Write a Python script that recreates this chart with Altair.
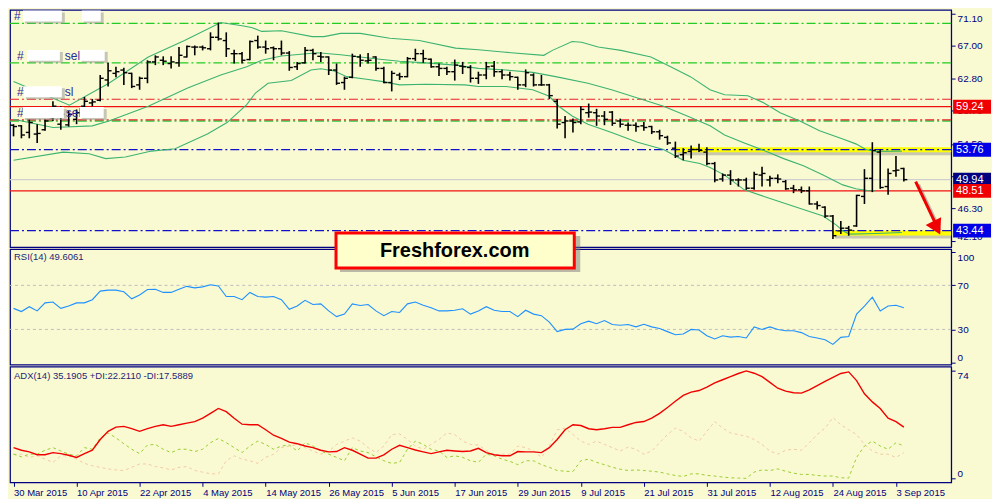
import json
import altair as alt
import pandas as pd

BG = "#FAFAD2"
NAVY = "#000080"
TXT = "#1E1E78"
FONT = "Liberation Sans"
W = 944
H_MAIN, H_RSI, H_ADX = 238, 116, 116
XDOM = [-0.45, 119.0]

date_labels = ["30 Mar 2015", "10 Apr 2015", "22 Apr 2015", "4 May 2015", "14 May 2015",
               "26 May 2015", "5 Jun 2015", "17 Jun 2015", "29 Jun 2015", "9 Jul 2015",
               "21 Jul 2015", "31 Jul 2015", "12 Aug 2015", "24 Aug 2015", "3 Sep 2015"]
date_label_idx = [0, 8, 16, 24, 32, 40, 48, 56, 64, 72, 80, 88, 96, 104, 112]

opens = [56.88, 56.80, 55.96, 55.75, 56.30, 57.84, 57.01, 56.92, 57.63, 59.30, 59.72, 60.06, 62.65, 63.49, 63.91,
         63.49, 62.02, 62.86, 64.95, 65.16, 64.74, 64.83, 65.58, 66.84, 66.84, 66.63, 68.09, 67.67, 66.00, 66.00,
         65.25, 67.67, 66.84, 66.75, 66.63, 66.08, 64.33, 64.83, 66.42, 65.66, 65.58, 63.91, 62.32, 62.99, 65.58,
         65.08, 65.58, 64.12, 62.32, 63.28, 63.07, 65.37, 66.00, 65.29, 64.33, 64.12, 63.70, 64.41, 64.24, 62.86,
         63.28, 64.41, 63.70, 63.28, 62.99, 62.02, 63.28, 62.02, 62.02, 59.93, 57.22, 57.42, 57.30, 58.47, 58.47,
         58.05, 58.55, 57.42, 56.88, 56.88, 56.80, 56.71, 56.04, 55.33, 53.95, 53.12, 53.54, 53.79, 53.45, 51.99,
         50.02, 50.52, 49.90, 49.90, 48.85, 50.52, 49.90, 50.11, 49.69, 48.85, 48.64, 48.52, 46.84, 46.43, 45.30,
         43.41, 43.75, 44.04, 47.80, 50.11, 53.45, 49.06, 51.07, 51.36]
highs = [57.01, 56.88, 57.63, 57.01, 57.63, 59.93, 59.30, 58.68, 58.89, 60.48, 60.23, 63.28, 64.83, 64.33, 64.20,
         63.57, 63.07, 65.16, 65.79, 65.66, 65.66, 66.84, 67.04, 67.04, 67.04, 68.72, 69.97, 68.72, 66.50, 66.21,
         67.67, 68.30, 67.67, 66.92, 67.67, 66.33, 64.95, 66.84, 66.63, 66.21, 65.66, 64.74, 63.07, 66.00, 65.91,
         66.08, 65.66, 64.33, 63.82, 63.57, 65.58, 66.63, 66.50, 65.37, 64.74, 64.33, 65.25, 64.95, 64.54, 63.70,
         64.95, 65.08, 63.99, 63.70, 63.07, 63.99, 63.49, 63.28, 62.15, 60.23, 58.05, 57.72, 59.30, 59.64, 58.97,
         58.68, 58.68, 57.72, 57.22, 57.22, 57.30, 56.80, 56.30, 55.54, 54.79, 53.95, 54.29, 54.50, 54.08, 52.20,
         50.73, 51.15, 50.11, 50.19, 50.94, 51.57, 50.44, 50.61, 49.90, 49.27, 49.06, 49.06, 47.18, 46.55, 45.42,
         44.67, 44.04, 48.01, 51.28, 54.71, 53.79, 51.36, 52.95, 51.45]
lows = [55.46, 55.21, 55.21, 54.62, 56.17, 57.42, 56.30, 56.71, 57.01, 58.89, 59.30, 59.93, 61.82, 62.99, 62.02,
        61.61, 61.40, 62.23, 64.54, 64.54, 64.12, 64.33, 65.50, 65.79, 66.42, 66.42, 67.67, 65.58, 64.74, 64.74,
        65.16, 66.63, 66.00, 65.16, 65.79, 63.82, 63.91, 64.74, 65.16, 64.95, 63.28, 62.02, 61.40, 62.86, 64.33,
        64.74, 63.82, 62.23, 61.19, 62.65, 62.99, 65.08, 64.83, 64.20, 63.15, 63.28, 62.57, 63.40, 62.32, 62.15,
        62.74, 63.07, 62.74, 62.57, 61.40, 61.73, 61.82, 61.90, 60.23, 56.46, 55.21, 55.96, 57.01, 57.84, 56.80,
        56.88, 56.80, 56.59, 56.17, 56.04, 56.17, 55.75, 55.04, 54.37, 52.70, 52.41, 52.62, 53.45, 51.78, 49.60,
        49.69, 49.27, 49.06, 48.64, 48.64, 49.06, 49.06, 49.48, 48.64, 48.22, 48.22, 46.76, 46.13, 45.09, 42.37,
        43.00, 42.79, 43.92, 46.84, 48.35, 48.77, 48.01, 50.32, 49.69]
closes = [56.71, 55.63, 57.22, 55.83, 57.42, 59.30, 58.26, 58.26, 58.47, 59.93, 59.85, 62.86, 63.82, 63.70, 63.57,
          61.82, 62.86, 64.95, 65.58, 65.04, 64.95, 65.79, 66.92, 66.84, 66.75, 68.09, 67.88, 66.63, 66.00, 65.16,
          67.55, 66.84, 66.63, 66.63, 66.08, 64.24, 64.74, 66.42, 66.00, 65.58, 63.91, 62.23, 62.86, 65.66, 65.16,
          65.16, 64.12, 62.32, 63.49, 63.07, 65.37, 66.00, 65.37, 64.33, 64.12, 63.70, 64.54, 64.33, 62.86, 63.28,
          64.33, 63.70, 63.28, 63.07, 62.02, 63.57, 62.02, 62.02, 60.65, 57.01, 57.42, 57.22, 58.89, 58.55, 58.05,
          57.63, 57.13, 57.01, 56.88, 56.71, 56.59, 56.04, 55.54, 54.62, 52.95, 53.37, 53.79, 53.66, 51.99, 49.90,
          50.52, 49.90, 49.90, 48.85, 50.61, 50.73, 50.11, 50.02, 48.77, 48.64, 48.52, 46.84, 46.64, 45.30, 42.79,
          43.75, 43.50, 47.93, 50.11, 53.66, 48.94, 50.73, 51.15, 49.94]

bb_upper_idx = [0, 7.1, 12.1, 17.1, 21.7, 26.3, 29.0, 30.2, 31.5, 34, 37.9, 39.4, 41.5, 44, 47.75, 51.5, 56.1, 59,
                62.1, 67.3, 68.4, 70.9, 72.1, 74.2, 77.1, 80.9, 83.4, 85.9, 88.4, 90.25, 93.2, 95.25, 97.3, 99.8,
                102.3, 105.25, 106.9, 108.2, 109.4, 112.75]
bb_upper_val = [62.44, 59.43, 62.23, 65.58, 67.67, 69.97, 69.55, 69.34, 68.84, 68.92, 68.17, 68.17, 68.59, 68.59,
                67.96, 67.67, 66.71, 66.50, 66.21, 65.79, 66.42, 67.55, 67.46, 66.84, 66.42, 65.58, 64.33, 63.07,
                61.40, 60.77, 60.64, 59.72, 58.47, 57.42, 56.17, 55.12, 54.50, 53.79, 53.54, 53.58]
bb_mid_idx = [0, 5, 10, 12.1, 17.1, 22.1, 26.3, 29.6, 31.5, 34, 38.6, 41.5, 44, 46.5, 49, 52.3, 56.1, 59, 62.5,
              65.9, 68.8, 72.9, 75.9, 79.2, 82.5, 85.5, 88.4, 90.25, 92.75, 95.25, 97.75, 100.25, 102.75, 105.25,
              106.9, 108.6, 109.4]
bb_mid_val = [57.63, 56.59, 56.80, 57.42, 59.30, 61.61, 63.28, 64.33, 65.16, 65.70, 66.12, 65.87, 65.58, 65.29,
              65.04, 64.83, 64.54, 64.12, 63.91, 63.61, 63.07, 62.23, 61.40, 60.35, 59.30, 58.05, 56.80, 55.63,
              54.62, 53.66, 52.62, 51.70, 50.52, 49.27, 48.77, 48.52, 48.52]
bb_low_idx = [0, 6.3, 9.6, 11.7, 14.2, 17.5, 20.5, 24.6, 27.1, 29.6, 30.7, 32.3, 35.25, 37.75, 39, 40.7, 42.3,
              44.8, 46.9, 49, 52.3, 57.3, 59, 62.5, 65.9, 68, 69.2, 70.9, 72.9, 75.9, 79.2, 82.5, 85, 87.1, 88.4,
              90.25, 92.75, 95.25, 97.75, 100.25, 102.75, 104.4, 105.25, 106.1, 109.4, 112.75]
bb_low_val = [52.41, 53.45, 53.24, 52.62, 52.83, 53.58, 53.87, 55.75, 57.22, 59.51, 60.98, 62.23, 62.57, 63.91,
              64.07, 63.78, 63.07, 62.74, 62.44, 62.02, 62.11, 62.02, 61.82, 61.82, 61.40, 60.56, 59.30, 58.05,
              57.01, 55.96, 54.71, 53.79, 52.41, 51.99, 51.49, 50.52, 48.64, 47.80, 46.97, 46.13, 45.30, 44.17,
              43.41, 43.00, 43.08, 43.20]

rsi = [49.1, 46.2, 50.6, 46.8, 54.1, 54.9, 49.1, 51.2, 54.1, 54.1, 57.0, 64.8, 65.7, 65.7, 64.2, 57.8, 61.3, 66.2,
       66.5, 63.6, 63.6, 66.5, 69.1, 67.7, 68.6, 70.6, 69.4, 59.9, 59.9, 57.0, 63.6, 59.9, 59.3, 59.9, 57.0, 48.3,
       51.2, 56.4, 52.6, 53.2, 46.8, 41.6, 43.9, 53.2, 51.7, 52.6, 46.8, 42.5, 46.2, 45.4, 53.2, 54.9, 52.0, 49.7,
       46.8, 46.8, 47.4, 48.8, 43.9, 46.8, 50.6, 47.4, 46.2, 46.2, 41.6, 47.4, 43.9, 42.5, 36.7, 28.0, 30.0, 30.3,
       35.2, 37.5, 35.2, 38.1, 34.4, 33.8, 34.4, 32.3, 34.6, 32.3, 30.9, 28.0, 25.1, 25.9, 30.0, 29.4, 24.2, 21.3,
       24.2, 23.0, 23.6, 22.2, 32.3, 30.0, 32.3, 30.0, 28.8, 28.8, 27.1, 23.6, 22.2, 20.7, 16.4, 22.8, 23.6, 43.9,
       51.2, 59.3, 46.8, 51.2, 52.0, 49.6]
adx = [21.1, 19.3, 18.2, 16.2, 16.2, 17.7, 17.0, 15.9, 14.4, 17.0, 19.3, 26.7, 32.3, 35.2, 35.7, 34.1, 32.3, 34.1,
       35.7, 36.8, 35.7, 36.8, 37.9, 39.0, 41.3, 44.6, 48.0, 45.8, 41.3, 37.2, 36.8, 36.8, 33.4, 29.6, 27.4, 24.9,
       23.8, 22.2, 21.1, 19.3, 18.2, 18.4, 21.1, 19.3, 16.6, 13.9, 13.9, 16.2, 20.0, 22.7, 21.1, 19.5, 18.2, 17.0,
       18.2, 19.3, 18.8, 18.4, 18.8, 20.6, 17.7, 16.2, 15.5, 15.5, 18.4, 18.2, 18.2, 17.7, 21.1, 26.7, 33.4, 36.8,
       36.3, 34.1, 33.4, 34.1, 35.0, 35.0, 36.8, 38.4, 39.0, 41.3, 44.6, 48.7, 52.9, 57.0, 59.2, 60.3, 62.6, 65.5,
       67.7, 69.8, 72.0, 73.8, 72.2, 69.8, 65.9, 61.9, 59.9, 58.8, 58.5, 60.8, 63.7, 66.6, 69.3, 72.0, 73.1, 67.1,
       58.1, 52.5, 48.0, 41.3, 39.0, 35.2]
plus_di = [16.6, 14.8, 16.6, 16.6, 19.3, 21.1, 18.8, 16.6, 15.5, 21.1, 20.0, 27.8, 31.2, 27.8, 23.8, 20.0, 17.0,
           22.9, 23.3, 20.0, 17.7, 20.0, 20.0, 18.4, 20.0, 24.5, 27.4, 24.5, 21.1, 17.7, 22.2, 25.6, 23.3, 20.0,
           22.2, 22.9, 18.8, 24.5, 22.2, 18.8, 16.6, 14.4, 12.1, 21.1, 18.8, 17.7, 14.8, 12.1, 10.3, 11.0, 20.0,
           25.6, 23.3, 20.0, 18.8, 14.4, 15.5, 14.4, 12.1, 11.0, 16.6, 15.5, 13.2, 11.7, 9.4, 12.1, 12.1, 9.4, 7.6,
           5.4, 4.9, 4.7, 12.1, 13.2, 11.0, 9.4, 7.6, 6.3, 5.4, 5.8, 5.4, 4.9, 4.3, 3.1, 2.0, 1.3, 3.1, 3.1, 2.0,
           1.6, 0.9, 0.4, 0.2, 0.0, 4.3, 5.8, 5.4, 6.5, 4.9, 3.6, 2.7, 2.7, 2.0, 1.6, 1.6, 0.4, 0.2, 14.4, 22.2,
           25.6, 22.2, 20.0, 24.5, 22.2]
minus_di = [16.6, 16.6, 14.4, 15.5, 13.2, 11.0, 15.5, 15.5, 13.2, 10.3, 8.7, 7.6, 6.5, 5.8, 5.4, 7.6, 9.9, 9.9,
            8.1, 7.2, 5.8, 7.6, 8.1, 5.4, 4.3, 3.1, 3.1, 12.1, 15.5, 13.2, 12.1, 10.3, 14.4, 16.6, 21.1, 22.2,
            23.3, 21.1, 18.8, 16.6, 18.4, 23.3, 25.6, 27.8, 25.6, 21.1, 17.7, 22.2, 30.1, 30.5, 26.7, 22.2, 20.0,
            23.3, 26.7, 31.2, 30.1, 25.6, 23.3, 22.9, 19.3, 15.5, 16.6, 16.6, 22.2, 21.1, 18.8, 14.4, 22.2, 33.4,
            34.5, 30.1, 25.6, 23.3, 25.6, 23.3, 21.1, 18.8, 21.5, 20.0, 16.6, 18.8, 24.5, 30.1, 34.5, 32.3, 27.8,
            25.6, 32.3, 39.0, 34.5, 31.2, 30.1, 28.9, 26.7, 23.3, 18.8, 16.6, 19.3, 20.0, 19.3, 24.5, 30.1, 34.5,
            41.7, 36.8, 33.4, 30.1, 23.3, 18.8, 16.6, 16.6, 14.4, 17.6]

price_ticks = [42.10, 46.30, 50.40, 54.50, 58.70, 62.80, 67.00, 71.10]
rsi_ticks = [0, 30, 70, 100]
adx_ticks = [0, 74]
level_green = [69.85, 64.83, 57.55]
level_red_dash = [60.19, 57.55]
level_red_solid = [59.24, 48.51]
level_blue_dash = [53.76, 43.44]
level_price_line = [49.94]
strip_start = [84, 104]
strip_price = [53.76, 43.15]
value_tags = [59.24, 53.76, 49.94, 48.51, 43.44]
value_tag_colors = ["#F00000", "#0000E6", "#000080", "#F00000", "#0000E6"]
label_levels = [69.85, 64.83, 60.19, 57.55]
arrow_from = (114.5, 49.7)
arrow_to = (117.6, 42.95)


# ---------------------------------------------------------------- axes (identical in every layer)
def yaxis(values, fmt=None):
    lo, hi = min(values), max(values)
    kw = dict(orient="right", values=values, grid=False, labelColor=NAVY, tickColor=NAVY,
              domainColor=NAVY, tickSize=4, labelFontSize=10, labelFont=FONT, labelPadding=2,
              labelOverlap=False, labelFlush=False, labelBound=False, title=None, zindex=0,
              labelBaseline={"condition": [{"test": f"datum.value >= {hi}", "value": "top"},
                                           {"test": f"datum.value <= {lo}", "value": "bottom"}],
                             "value": "middle"})
    if fmt:
        kw["format"] = fmt
    return alt.Axis(**kw)


price_axis = yaxis(price_ticks, ".2f")
rsi_axis = yaxis(rsi_ticks)
adx_axis = yaxis(adx_ticks)
label_expr = json.dumps(date_labels) + "[round(datum.value / 8)]"
x_axis = alt.Axis(orient="bottom", values=date_label_idx, labelExpr=label_expr, labelAlign="left",
                  labelOverlap=False, labelFlush=False, labelBound=False, grid=False, domain=False,
                  tickColor=NAVY, tickSize=4, labelColor=NAVY, labelFontSize=9.5, labelFont=FONT,
                  labelPadding=1, title=None, zindex=0)

xs = alt.Scale(domain=XDOM, nice=False, zero=False)
ps = alt.Scale(domain=[41.35, 71.6], nice=False, zero=False)
rs = alt.Scale(domain=[-2, 103], nice=False, zero=False)
ads = alt.Scale(domain=[-2.7, 76.7], nice=False, zero=False)


def X(f="i"):
    return alt.X(f"{f}:Q", scale=xs, axis=None, title=None)


def XA(f="i"):
    return alt.X(f"{f}:Q", scale=xs, axis=x_axis, title=None)


def PY(f):
    return alt.Y(f"{f}:Q", scale=ps, axis=price_axis, title=None)


def RY(f):
    return alt.Y(f"{f}:Q", scale=rs, axis=rsi_axis, title=None)


def AY(f):
    return alt.Y(f"{f}:Q", scale=ads, axis=adx_axis, title=None)


def rules(vals, **kw):
    return alt.Chart(pd.DataFrame({"p": vals})).mark_rule(**kw).encode(y=PY("p"))


n = len(closes)
bars = pd.DataFrame({"i": list(range(n)), "o": opens, "h": highs, "l": lows, "c": closes})

# ---------------------------------------------------------------- main price panel
strips = pd.DataFrame({"i": strip_start, "e": [XDOM[1]] * 2, "p": strip_price})
strip_shadow = alt.Chart(strips).mark_rule(color="#8C8C8C", strokeWidth=5, opacity=0.45,
                                           yOffset=3, xOffset=2).encode(
    x=X(), x2="e:Q", y=PY("p"))
strip_yellow = alt.Chart(strips).mark_rule(color="#FFFF00", strokeWidth=5).encode(
    x=X(), x2="e:Q", y=PY("p"))

DD = [9, 3, 2, 3]
lv_g_thick = rules([level_green[2]], color="#2ECC40", strokeWidth=1.4, strokeDash=DD, yOffset=1)
lv_g = rules(level_green[:2], color="#22CC22", strokeWidth=1.2, strokeDash=DD)
lv_rd = rules(level_red_dash, color="#E8202A", strokeWidth=1.2, strokeDash=DD)
lv_rs = rules(level_red_solid, color="#F01010", strokeWidth=1.2)
lv_bd = rules(level_blue_dash, color="#1010C8", strokeWidth=1.2, strokeDash=DD)
lv_pl = rules(level_price_line, color="#CFCFCF", strokeWidth=1.2)

bands = pd.concat([
    pd.DataFrame({"i": bb_upper_idx, "v": bb_upper_val, "b": "up"}),
    pd.DataFrame({"i": bb_mid_idx, "v": bb_mid_val, "b": "mid"}),
    pd.DataFrame({"i": bb_low_idx, "v": bb_low_val, "b": "low"}),
])
band_lines = alt.Chart(bands).mark_line(color="#3CB371", strokeWidth=1.1).encode(
    x=X(), y=PY("v"), detail="b:N")

hl = alt.Chart(bars).mark_rule(color="black", strokeWidth=1.6).encode(
    x=X(), y=PY("h"), y2="l:Q")
op = alt.Chart(bars).mark_rule(color="black", strokeWidth=1.4, xOffset=-3.5).encode(
    x=X(), x2="i:Q", y=PY("o"))
cl = alt.Chart(bars).mark_rule(color="black", strokeWidth=1.4, x2Offset=3.5).encode(
    x=X(), x2="i:Q", y=PY("c"))

arrow = pd.DataFrame({"i": [arrow_from[0]], "p": [arrow_from[1]],
                      "i2": [arrow_to[0] - 0.35], "p2": [arrow_to[1] + 0.9]})
head = pd.DataFrame({"i": [arrow_to[0] - 0.42], "p": [arrow_to[1] + 0.85]})
arrow_sh = alt.Chart(arrow).mark_rule(color="#777777", strokeWidth=3, opacity=0.45, xOffset=3, yOffset=3,
                                      x2Offset=3, y2Offset=3).encode(x=X(), y=PY("p"), x2="i2:Q", y2="p2:Q")
arrow_ln = alt.Chart(arrow).mark_rule(color="#F00000", strokeWidth=3).encode(
    x=X(), y=PY("p"), x2="i2:Q", y2="p2:Q")
arrow_hd = alt.Chart(head).mark_point(shape="triangle-down", filled=True, size=300, angle=333,
                                      color="#F00000", opacity=1).encode(x=X(), y=PY("p"))

# obscured trade labels at top left
box_specs = [(0, 13, 52), (0, 72, 91), (1, 17, 50), (1, 70, 95), (2, 14, 52), (3, 13, 54), (3, 70, 94)]
row_texts = [("#", 4, 0), ("#", 7, 1), ("sell", 55, 1), ("#", 7, 2), ("sl", 55, 2), ("#", 7, 3), ("sell", 56, 3)]
anno_layers = []
for t, x0, r in row_texts:
    anno_layers.append(alt.Chart(pd.DataFrame({"p": [label_levels[r]], "t": [t]})).mark_text(
        align="left", baseline="middle", color="#2B2BA0", fontSize=12, font=FONT, yOffset=-7).encode(
        x=alt.value(x0), y=PY("p"), text="t:N"))
for r, x0, x1 in box_specs:
    d = pd.DataFrame({"p": [label_levels[r]]})
    anno_layers.append(alt.Chart(d).mark_rect(color="#9A9A9A", opacity=0.55, yOffset=-11, y2Offset=0).encode(
        x=alt.value(x0 + 2), x2=alt.value(x1 + 3), y=PY("p"), y2="p:Q"))
    anno_layers.append(alt.Chart(d).mark_rect(color="white", yOffset=-13, y2Offset=-2).encode(
        x=alt.value(x0), x2=alt.value(x1), y=PY("p"), y2="p:Q"))

tags = pd.DataFrame({"p": value_tags, "col": value_tag_colors,
                     "t": [f"{v:.2f}" for v in value_tags]})
tag_rect = alt.Chart(tags).mark_rect(yOffset=-7, y2Offset=7).encode(
    x=alt.value(W + 2), x2=alt.value(W + 40), y=PY("p"), y2="p:Q",
    color=alt.Color("col:N", scale=None))
tag_text = alt.Chart(tags).mark_text(align="left", baseline="middle", color="white",
                                     fontSize=11, font=FONT).encode(
    x=alt.value(W + 5), y=PY("p"), text="t:N")

main = alt.layer(strip_shadow, strip_yellow, lv_g_thick, lv_g, lv_rd, lv_rs, lv_bd, lv_pl,
                 band_lines, hl, op, cl, arrow_sh, arrow_ln, arrow_hd, *anno_layers,
                 tag_rect, tag_text).properties(width=W, height=H_MAIN)

# ---------------------------------------------------------------- RSI
rsi_df = pd.DataFrame({"i": list(range(n)), "v": rsi})
rsi_lv = alt.Chart(pd.DataFrame({"v": [30, 70]})).mark_rule(color="#BDBDBD", strokeDash=[3, 3]).encode(
    y=RY("v"))
rsi_line = alt.Chart(rsi_df).mark_line(color="#1E90FF", strokeWidth=1.1).encode(x=X(), y=RY("v"))
rsi_title = alt.Chart(pd.DataFrame({"t": ["RSI(14) 49.6061"]})).mark_text(
    align="left", baseline="middle", color=TXT, fontSize=9.5, font=FONT).encode(
    x=alt.value(4), y=alt.value(8), text="t:N")
brand = pd.DataFrame({"t": ["Freshforex.com"]})
brand_sh = alt.Chart(brand).mark_rect(color="#777777", opacity=0.5).encode(
    x=alt.value(331), x2=alt.value(572), y=alt.value(-13), y2=alt.value(23))
brand_box = alt.Chart(brand).mark_rect(fill="#FFFFCC", stroke="#FF0000", strokeWidth=3).encode(
    x=alt.value(327), x2=alt.value(566), y=alt.value(-16), y2=alt.value(19))
brand_txt = alt.Chart(brand).mark_text(align="center", baseline="middle", fontSize=20, fontWeight="bold",
                                       font=FONT, color="black").encode(
    x=alt.value(446), y=alt.value(2), text="t:N")
rsi_panel = alt.layer(rsi_lv, rsi_line, rsi_title, brand_sh, brand_box, brand_txt).properties(
    width=W, height=H_RSI)

# ---------------------------------------------------------------- ADX
adx_df = pd.DataFrame({"i": list(range(n)), "adx": adx, "pdi": plus_di, "mdi": minus_di})
mdi_line = alt.Chart(adx_df).mark_line(color="#F2C9A8", strokeWidth=1, strokeDash=[3, 3]).encode(
    x=XA(), y=AY("mdi"))
pdi_line = alt.Chart(adx_df).mark_line(color="#9ACD32", strokeWidth=1, strokeDash=[3, 3]).encode(
    x=XA(), y=AY("pdi"))
adx_line = alt.Chart(adx_df).mark_line(color="#F00000", strokeWidth=1.4).encode(
    x=XA(), y=AY("adx"))
adx_title = alt.Chart(pd.DataFrame({"t": ["ADX(14) 35.1905 +DI:22.2110 -DI:17.5889"]})).mark_text(
    align="left", baseline="middle", color=TXT, fontSize=9.5, font=FONT).encode(
    x=alt.value(4), y=alt.value(9), text="t:N")
adx_panel = alt.layer(mdi_line, pdi_line, adx_line, adx_title).properties(width=W, height=H_ADX)

chart = alt.vconcat(main, rsi_panel, adx_panel, spacing=2, bounds="flush").properties(
    padding=0
).configure(font=FONT, background=BG).configure_view(fill=BG, stroke=NAVY, strokeWidth=1.2)

chart.save("out.html", embed_options={"renderer": "svg", "actions": False})
